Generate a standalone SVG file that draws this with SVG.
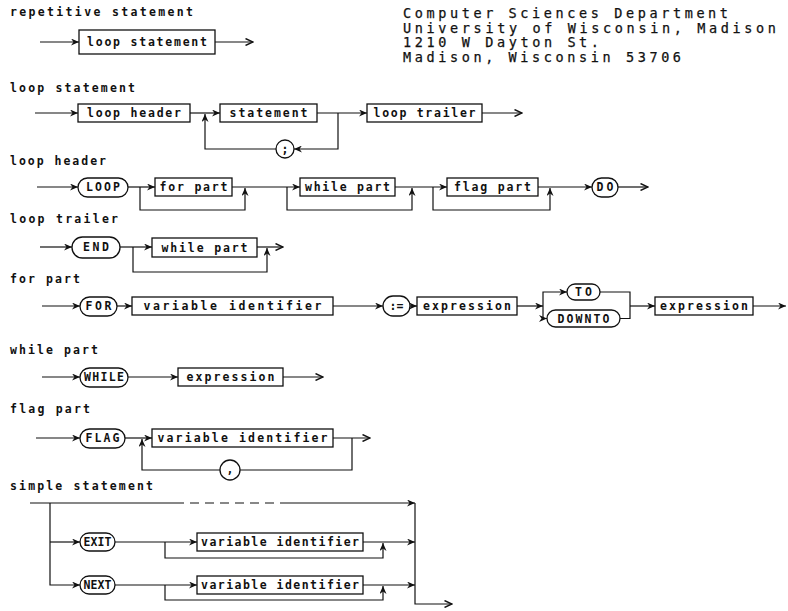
<svg xmlns="http://www.w3.org/2000/svg" width="788" height="611" viewBox="0 0 788 611">
<defs>
<marker id="a" viewBox="0 0 8 7" refX="8" refY="3.5" markerWidth="8" markerHeight="7" markerUnits="userSpaceOnUse" orient="auto"><path d="M0,0 L8,3.5 L0,7 L2.5,3.5 z" fill="#111"/></marker>
<marker id="o" viewBox="0 0 9 8" refX="8.5" refY="4" markerWidth="9" markerHeight="8" markerUnits="userSpaceOnUse" orient="auto"><path d="M1,0.5 L8.5,4 L1,7.5" fill="none" stroke="#111" stroke-width="1.4"/></marker>
<style>
.t{font-family:"DejaVu Sans Mono","Liberation Mono",monospace;font-size:11.5px;font-weight:bold;fill:#111}
.l{font-family:"DejaVu Sans Mono","Liberation Mono",monospace;font-size:11.5px;font-weight:bold;fill:#111;text-anchor:middle}
.ad{font-family:"DejaVu Sans Mono","Liberation Mono",monospace;font-size:13.5px;fill:#111;stroke:#111;stroke-width:0.25}
.b{fill:#fff;stroke:#111;stroke-width:1.3}
.c{fill:none;stroke:#111;stroke-width:1.2}
.ar{marker-end:url(#a)}
.ao{marker-end:url(#o)}
.d{stroke-dasharray:9 6}
</style>
</defs>
<rect width="788" height="611" fill="#fff"/>

<g id="titles">
<text class="t" x="10" y="16" textLength="183" lengthAdjust="spacing">repetitive statement</text>
<text class="t" x="10" y="92" textLength="125" lengthAdjust="spacing">loop statement</text>
<text class="t" x="10" y="165" textLength="96" lengthAdjust="spacing">loop header</text>
<text class="t" x="10" y="223" textLength="108" lengthAdjust="spacing">loop trailer</text>
<text class="t" x="10" y="283" textLength="70" lengthAdjust="spacing">for part</text>
<text class="t" x="10" y="354" textLength="88" lengthAdjust="spacing">while part</text>
<text class="t" x="10" y="413" textLength="80" lengthAdjust="spacing">flag part</text>
<text class="t" x="10" y="490" textLength="143" lengthAdjust="spacing">simple statement</text>
</g>

<g id="address">
<text class="ad" x="403" y="18" textLength="325" lengthAdjust="spacing">Computer Sciences Department</text>
<text class="ad" x="403" y="32.7" textLength="373" lengthAdjust="spacing">University of Wisconsin, Madison</text>
<text class="ad" x="403" y="47.4" textLength="196" lengthAdjust="spacing">1210 W Dayton St.</text>
<text class="ad" x="403" y="62.1" textLength="278" lengthAdjust="spacing">Madison, Wisconsin 53706</text>
</g>

<g id="connectors">
<!-- repetitive statement -->
<path class="c ar" d="M40,42 H79"/>
<path class="c ao" d="M215,42 H253"/>
<!-- loop statement -->
<path class="c ar" d="M35,113 H78"/>
<path class="c ar" d="M190,113 H220"/>
<path class="c ar" d="M317,113 H367"/>
<path class="c ao" d="M482,113 H522"/>
<path class="c ar" d="M338,113 V149 H294"/>
<path class="c ar" d="M276,149 H205 V114"/>
<!-- loop header -->
<path class="c ar" d="M37,187 H78"/>
<path class="c ar" d="M128,187 H155"/>
<path class="c ar" d="M140,187 V210 H245 V188"/>
<path class="c ar" d="M232,187 H300"/>
<path class="c ar" d="M287,187 V210 H412 V188"/>
<path class="c ar" d="M395,187 H447"/>
<path class="c ar" d="M433,187 V210 H550 V188"/>
<path class="c ar" d="M538,187 H592"/>
<path class="c ao" d="M618,187 H648"/>
<!-- loop trailer -->
<path class="c ar" d="M40,247 H72"/>
<path class="c ar" d="M120,247 H152"/>
<path class="c ar" d="M133,247 V272 H267 V248"/>
<path class="c ao" d="M257,247 H283"/>
<!-- for part -->
<path class="c ar" d="M42,306 H80"/>
<path class="c ar" d="M117,306 H132"/>
<path class="c ar" d="M333,306 H383"/>
<path class="c ar" d="M410,306 H417"/>
<path class="c ar" d="M517,306 H543"/>
<path class="c ar" d="M543,306 V292 H567"/>
<path class="c ar" d="M543,306 V318.5 H547"/>
<path class="c" d="M600,292 H630 V318.5 H620"/>
<path class="c ar" d="M630,306 H655"/>
<path class="c ar" d="M753,306 H786"/>
<!-- while part -->
<path class="c ar" d="M42,377 H80"/>
<path class="c ar" d="M128,377 H178"/>
<path class="c ao" d="M283,377 H323"/>
<!-- flag part -->
<path class="c ar" d="M36,438 H80"/>
<path class="c ar" d="M125,438 H152"/>
<path class="c ao" d="M333,438 H370"/>
<path class="c" d="M352,438 V470 H240"/>
<path class="c ar" d="M220,470 H142 V439"/>
<!-- simple statement -->
<path class="c" d="M30,503 H175"/>
<path class="c d" d="M175,503 H280"/>
<path class="c ar" d="M280,503 H415"/>
<path class="c ar" d="M50,503 V585 H80"/>
<path class="c ar" d="M50,542 H80"/>
<path class="c ar" d="M115,542 H197"/>
<path class="c ar" d="M165,542 V558 H383 V543"/>
<path class="c ar" d="M363,542 H415"/>
<path class="c ar" d="M115,585 H197"/>
<path class="c ar" d="M165,585 V600 H383 V586"/>
<path class="c ar" d="M363,585 H415"/>
<path class="c ao" d="M415,503 V604 H452"/>
</g>

<g id="rs-loopstatement"><rect class="b" x="79" y="30" width="136" height="24"/><text class="l" x="147" y="46" textLength="120" lengthAdjust="spacing">loop statement</text></g>

<g id="ls-loopheader"><rect class="b" x="78" y="104" width="112" height="18"/><text class="l" x="134" y="117" textLength="94" lengthAdjust="spacing">loop header</text></g>
<g id="ls-statement"><rect class="b" x="220" y="104" width="97" height="18"/><text class="l" x="268.5" y="117" textLength="78" lengthAdjust="spacing">statement</text></g>
<g id="ls-looptrailer"><rect class="b" x="367" y="104" width="115" height="18"/><text class="l" x="424.5" y="117" textLength="102" lengthAdjust="spacing">loop trailer</text></g>
<g id="ls-semicolon"><circle class="b" cx="285" cy="149" r="9"/><text class="l" x="285" y="153">;</text></g>

<g id="lh-LOOP"><rect class="b" x="78" y="178" width="50" height="19" rx="9.5"/><text class="l" x="103" y="191" textLength="34" lengthAdjust="spacing">LOOP</text></g>
<g id="lh-forpart"><rect class="b" x="155" y="178" width="77" height="18"/><text class="l" x="193.5" y="191" textLength="68" lengthAdjust="spacing">for part</text></g>
<g id="lh-whilepart"><rect class="b" x="300" y="178" width="95" height="18"/><text class="l" x="347.5" y="191" textLength="85" lengthAdjust="spacing">while part</text></g>
<g id="lh-flagpart"><rect class="b" x="447" y="178" width="91" height="18"/><text class="l" x="492.5" y="191" textLength="77" lengthAdjust="spacing">flag part</text></g>
<g id="lh-DO"><rect class="b" x="592" y="178" width="26" height="19" rx="9.5"/><text class="l" x="605" y="191" textLength="17" lengthAdjust="spacing">DO</text></g>

<g id="lt-END"><rect class="b" x="72" y="237" width="48" height="21" rx="10.5"/><text class="l" x="96" y="251" textLength="26" lengthAdjust="spacing">END</text></g>
<g id="lt-whilepart"><rect class="b" x="152" y="238" width="105" height="19"/><text class="l" x="204.5" y="251.5" textLength="86" lengthAdjust="spacing">while part</text></g>

<g id="fp-FOR"><rect class="b" x="80" y="297" width="37" height="19" rx="9.5"/><text class="l" x="98.5" y="310" textLength="26" lengthAdjust="spacing">FOR</text></g>
<g id="fp-varid"><rect class="b" x="132" y="297" width="201" height="18"/><text class="l" x="232.5" y="310" textLength="178" lengthAdjust="spacing">variable identifier</text></g>
<g id="fp-assign"><rect class="b" x="383" y="296" width="27" height="20" rx="10"/><text class="l" x="396.5" y="310">:=</text></g>
<g id="fp-expr1"><rect class="b" x="417" y="297" width="100" height="18"/><text class="l" x="467" y="310" textLength="88" lengthAdjust="spacing">expression</text></g>
<g id="fp-TO"><rect class="b" x="567" y="284" width="33" height="16" rx="8"/><text class="l" x="583.5" y="296" textLength="17" lengthAdjust="spacing">TO</text></g>
<g id="fp-DOWNTO"><rect class="b" x="547" y="310" width="73" height="17" rx="8.5"/><text class="l" x="583.5" y="323" textLength="52" lengthAdjust="spacing">DOWNTO</text></g>
<g id="fp-expr2"><rect class="b" x="655" y="297" width="98" height="18"/><text class="l" x="704" y="310" textLength="88" lengthAdjust="spacing">expression</text></g>

<g id="wp-WHILE"><rect class="b" x="80" y="368" width="48" height="19" rx="9.5"/><text class="l" x="104" y="381" textLength="40" lengthAdjust="spacing">WHILE</text></g>
<g id="wp-expr"><rect class="b" x="178" y="368" width="105" height="18"/><text class="l" x="230.5" y="381" textLength="88" lengthAdjust="spacing">expression</text></g>

<g id="fl-FLAG"><rect class="b" x="80" y="429" width="45" height="19" rx="9.5"/><text class="l" x="102.5" y="442" textLength="34" lengthAdjust="spacing">FLAG</text></g>
<g id="fl-varid"><rect class="b" x="152" y="429" width="181" height="18"/><text class="l" x="242.5" y="442" textLength="170" lengthAdjust="spacing">variable identifier</text></g>
<g id="fl-comma"><circle class="b" cx="230" cy="470" r="10"/><text class="l" x="230" y="473">,</text></g>

<g id="ss-EXIT"><rect class="b" x="80" y="533" width="35" height="18" rx="9"/><text class="l" x="97.5" y="546" textLength="28" lengthAdjust="spacing">EXIT</text></g>
<g id="ss-varid1"><rect class="b" x="197" y="533" width="166" height="18"/><text class="l" x="280" y="546" textLength="158" lengthAdjust="spacing">variable identifier</text></g>
<g id="ss-NEXT"><rect class="b" x="80" y="576" width="35" height="18" rx="9"/><text class="l" x="97.5" y="589" textLength="28" lengthAdjust="spacing">NEXT</text></g>
<g id="ss-varid2"><rect class="b" x="197" y="576" width="166" height="18"/><text class="l" x="280" y="589" textLength="158" lengthAdjust="spacing">variable identifier</text></g>
</svg>
